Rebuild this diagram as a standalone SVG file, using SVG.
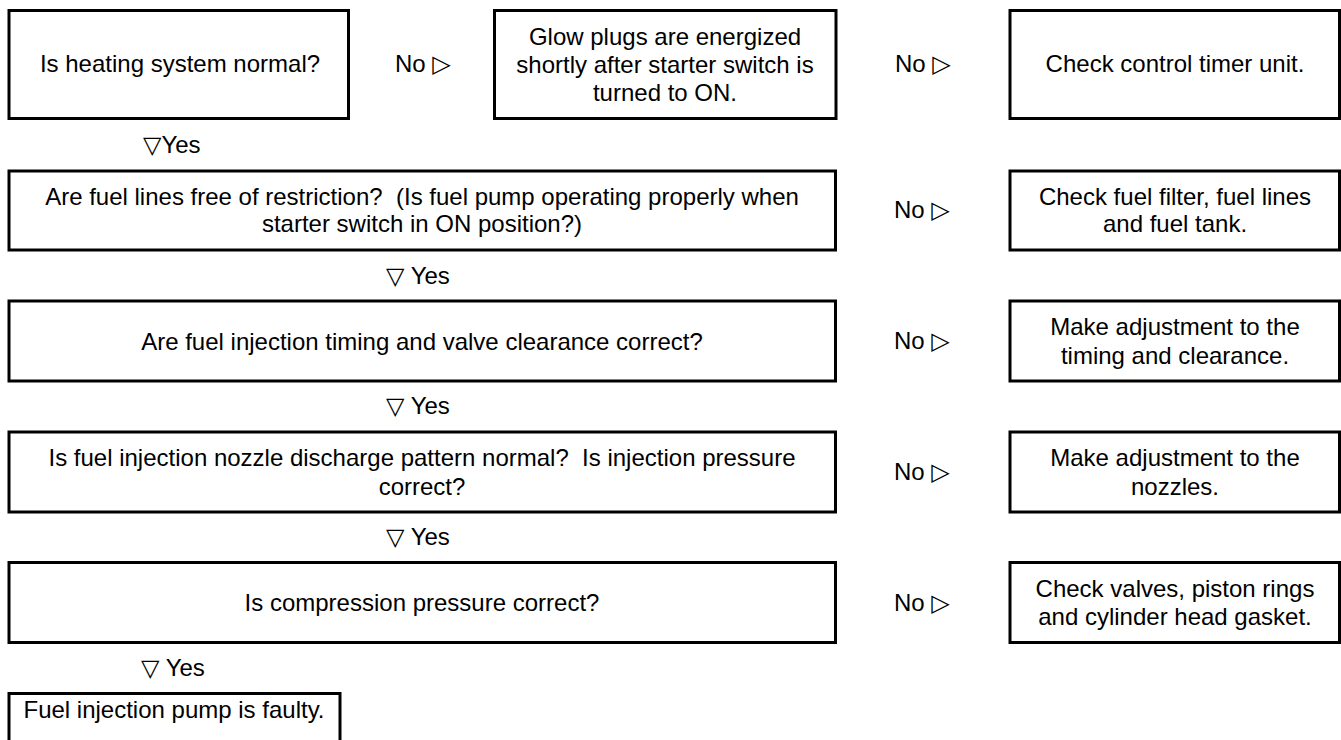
<svg xmlns="http://www.w3.org/2000/svg" width="1341" height="740" viewBox="0 0 1341 740">
<style>
.box{fill:#fff;stroke:#000;stroke-width:3}
text{font-family:"Liberation Sans",Arial,"DejaVu Sans",sans-serif;font-size:24px;fill:#000;text-anchor:middle;dominant-baseline:central}
.lbl{text-anchor:start}
</style>
<rect width="1341" height="740" fill="#fff"/>
<g id="n1"><rect class="box" x="9" y="10.5" width="339.5" height="108"/><text x="180" y="63">Is heating system normal?</text></g>
<g id="n2"><rect class="box" x="494.5" y="10.5" width="341.5" height="108"/><text x="665" y="36.5">Glow plugs are energized</text><text x="665" y="64.5">shortly after starter switch is</text><text x="665" y="92.5">turned to ON.</text></g>
<g id="n3"><rect class="box" x="1010" y="10.5" width="329.5" height="108"/><text x="1175" y="63">Check control timer unit.</text></g>
<g id="n4"><rect class="box" x="9" y="171" width="826.5" height="79"/><text x="422" y="196">Are fuel lines free of restriction?&#160; (Is fuel pump operating properly when</text><text x="422" y="223.5">starter switch in ON position?)</text></g>
<g id="n5"><rect class="box" x="1010" y="171" width="329.5" height="79"/><text x="1175" y="196">Check fuel filter, fuel lines</text><text x="1175" y="223.5">and fuel tank.</text></g>
<g id="n6"><rect class="box" x="9" y="301" width="826.5" height="80"/><text x="422" y="341">Are fuel injection timing and valve clearance correct?</text></g>
<g id="n7"><rect class="box" x="1010" y="301" width="329.5" height="80"/><text x="1175" y="326">Make adjustment to the</text><text x="1175" y="355">timing and clearance.</text></g>
<g id="n8"><rect class="box" x="9" y="432" width="826.5" height="80"/><text x="422" y="457">Is fuel injection nozzle discharge pattern normal?&#160; Is injection pressure</text><text x="422" y="486">correct?</text></g>
<g id="n9"><rect class="box" x="1010" y="432" width="329.5" height="80"/><text x="1175" y="457">Make adjustment to the</text><text x="1175" y="486">nozzles.</text></g>
<g id="n10"><rect class="box" x="9" y="562.5" width="826.5" height="80"/><text x="422" y="602.5">Is compression pressure correct?</text></g>
<g id="n11"><rect class="box" x="1010" y="562.5" width="329.5" height="80"/><text x="1175" y="588">Check valves, piston rings</text><text x="1175" y="616">and cylinder head gasket.</text></g>
<g id="n12"><rect class="box" x="9" y="693.5" width="331" height="60"/><text x="174" y="709">Fuel injection pump is faulty.</text></g>
<g id="connectors">
<text class="lbl" x="395" y="63">No ▷</text>
<text class="lbl" x="895" y="63">No ▷</text>
<text class="lbl" x="143" y="144">▽Yes</text>
<text class="lbl" x="894" y="209.5">No ▷</text>
<text class="lbl" x="386" y="275">▽ Yes</text>
<text class="lbl" x="894" y="340.5">No ▷</text>
<text class="lbl" x="386" y="405">▽ Yes</text>
<text class="lbl" x="894" y="471.5">No ▷</text>
<text class="lbl" x="386" y="536.5">▽ Yes</text>
<text class="lbl" x="894" y="602">No ▷</text>
<text class="lbl" x="141" y="667">▽ Yes</text>
</g>
</svg>
